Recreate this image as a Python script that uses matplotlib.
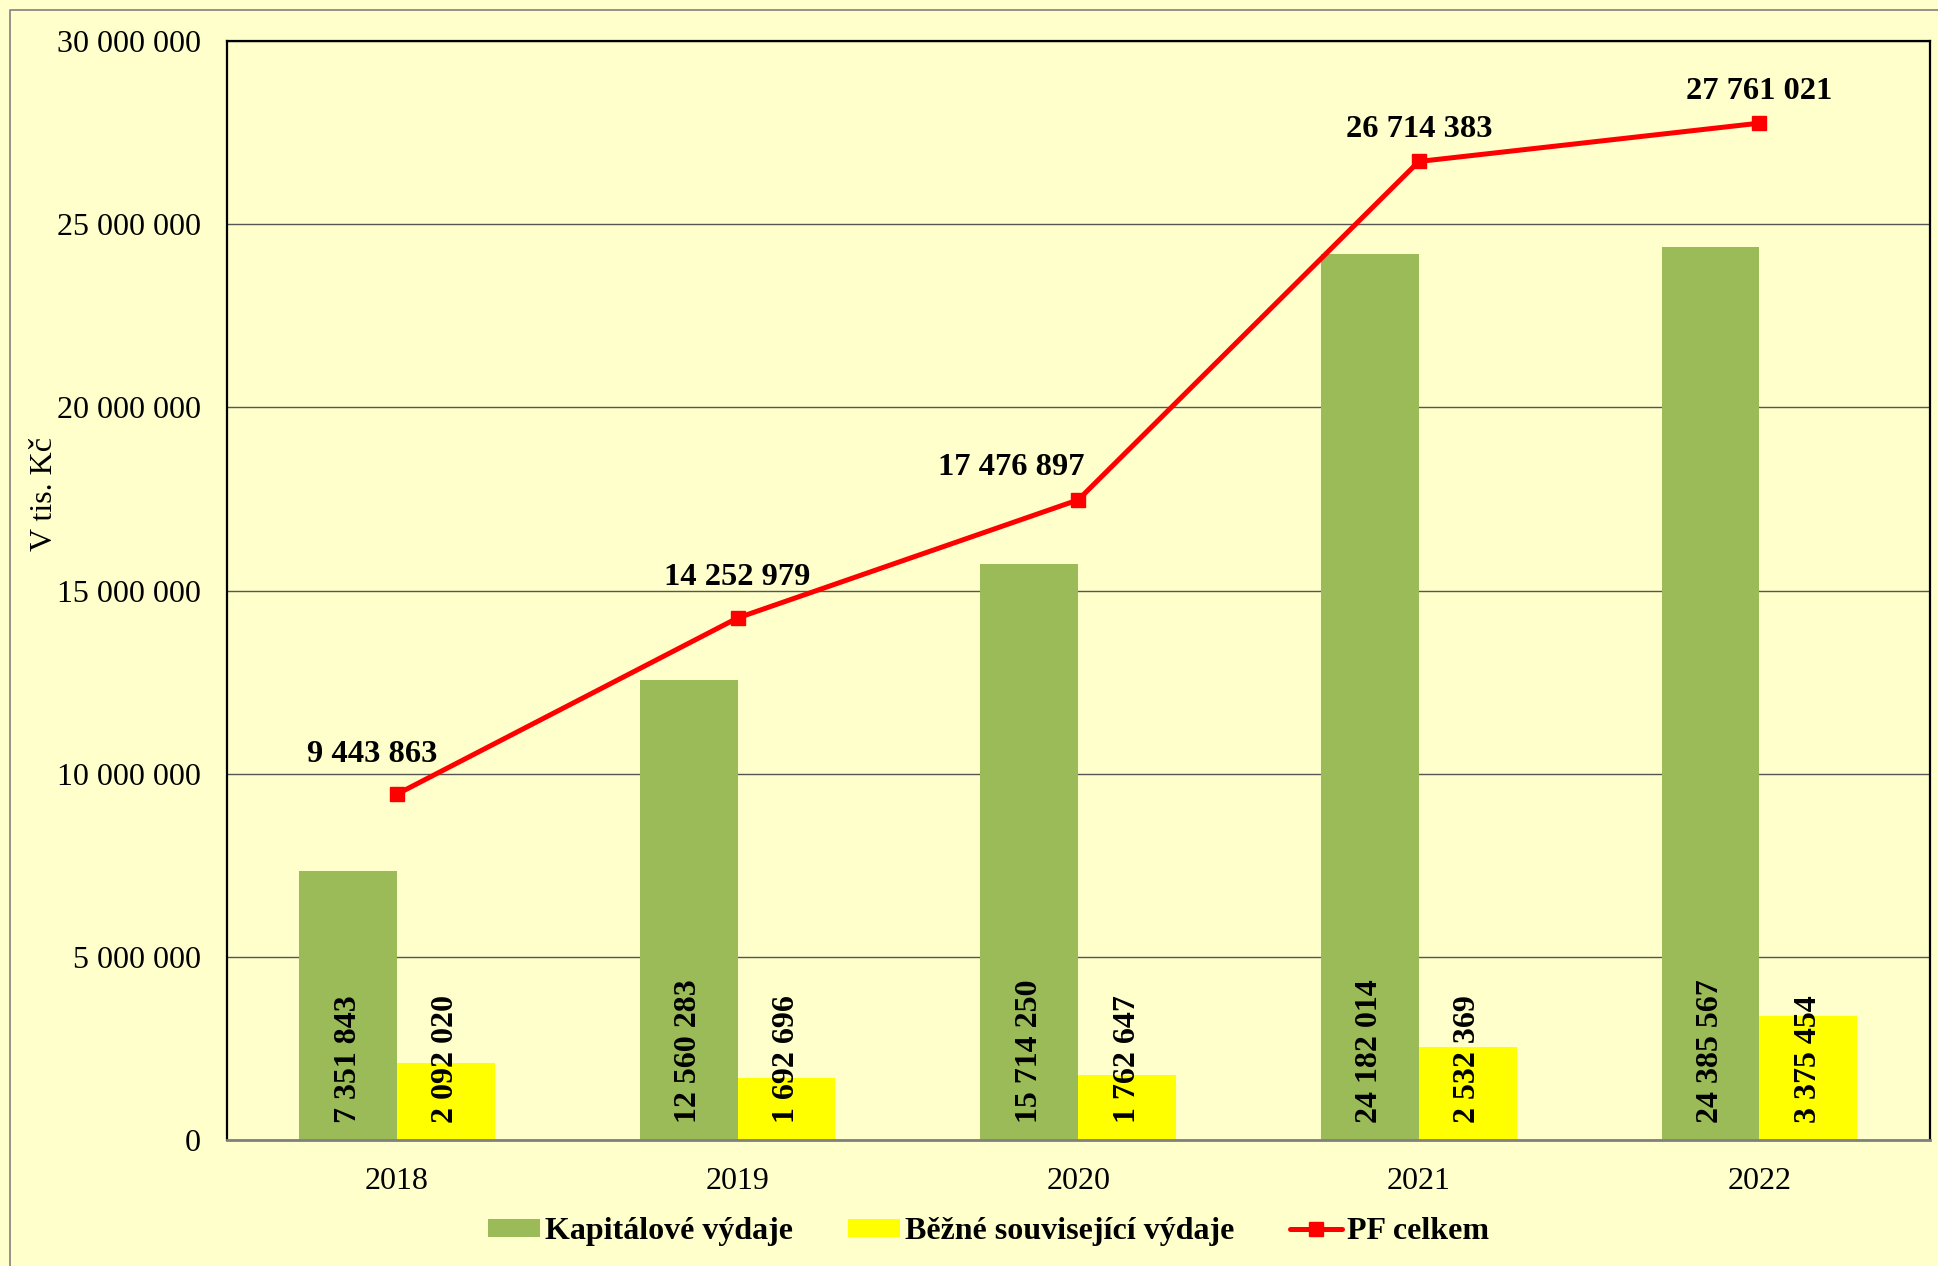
import numpy as np
import matplotlib.pyplot as plt
from matplotlib.lines import Line2D

roky = ["2018", "2019", "2020", "2021", "2022"]
kapitalove = [7351843, 12560283, 15714250, 24182014, 24385567]
bezne = [2092020, 1692696, 1762647, 2532369, 3375454]
pf_celkem = [9443863, 14252979, 17476897, 26714383, 27761021]

# posun popisku nad body cary (v bodech)
popisky_posun = [(-18, 28.5), (0, 29), (-48, 23), (0, 23), (0, 23)]

def fmt(v):
    return f"{v:,}".replace(",", " ")

plt.rcParams['font.family'] = ['Liberation Serif', 'DejaVu Serif']

bg = '#FFFFCC'
fig = plt.figure(figsize=(19.38, 12.66), dpi=100, facecolor=bg)
ax = fig.add_axes([0.117, 0.0995, 0.8787, 0.868], facecolor=bg)

x = np.arange(len(roky))
w = 0.287
b1 = ax.bar(x - w/2, kapitalove, w, color='#9BBB59', label='Kapitálové výdaje', zorder=2)
b2 = ax.bar(x + w/2, bezne, w, color='#FFFF00', label='Běžné související výdaje', zorder=2)
ln, = ax.plot(x, pf_celkem, color='#FF0000', lw=3.6, marker='s', markersize=9.5,
              label='PF celkem', zorder=3, solid_capstyle='round')

for i in range(len(roky)):
    ax.annotate(fmt(kapitalove[i]), (x[i] - w/2, 0), xytext=(0, 12), textcoords='offset points',
                rotation=90, ha='center', va='bottom', fontsize=23, fontweight='bold', zorder=4)
    ax.annotate(fmt(bezne[i]), (x[i] + w/2, 0), xytext=(0, 12), textcoords='offset points',
                rotation=90, ha='center', va='bottom', fontsize=23, fontweight='bold', zorder=4)
    ax.annotate(fmt(pf_celkem[i]), (x[i], pf_celkem[i]), xytext=popisky_posun[i],
                textcoords='offset points', ha='center', va='center',
                fontsize=23.4, fontweight='bold', zorder=4)

ax.set_xlim(-0.5, len(roky) - 0.5)
ax.set_ylim(0, 30000000)
yt = np.arange(0, 30000001, 5000000)
ax.set_yticks(yt)
ax.set_yticklabels([fmt(int(v)) for v in yt])
ax.set_xticks(x)
ax.set_xticklabels(roky)
ax.tick_params(axis='y', length=0, labelsize=23, pad=18.5)
ax.tick_params(axis='x', length=0, labelsize=23, pad=19.5)
ax.yaxis.grid(True, color='#555555', lw=1.0, zorder=1)
ax.set_axisbelow(True)
for s in ['left', 'top', 'right']:
    ax.spines[s].set_color('black')
    ax.spines[s].set_linewidth(1.6)
ax.spines['bottom'].set_color('#808080')
ax.spines['bottom'].set_linewidth(2.0)

fig.text(0.023, 0.61, 'V tis. Kč', rotation=90, fontsize=23, ha='center', va='center')

fig.legend([b1, b2, ln], [b1.get_label(), b2.get_label(), ln.get_label()],
           loc='center', bbox_to_anchor=(0.51, 0.027), ncol=3, frameon=False,
           prop={'size': 23, 'weight': 'bold'}, handlelength=1.63, handleheight=0.5,
           columnspacing=1.74, handletextpad=0.15)

# ramecek grafu (viditelny jen nahore a vlevo)
fig.add_artist(Line2D([0.005, 0.005, 1.0], [0.0, 0.992, 0.992], transform=fig.transFigure,
                      color='#808080', lw=1.2))

fig.savefig('out.png', dpi=100, facecolor=bg)
